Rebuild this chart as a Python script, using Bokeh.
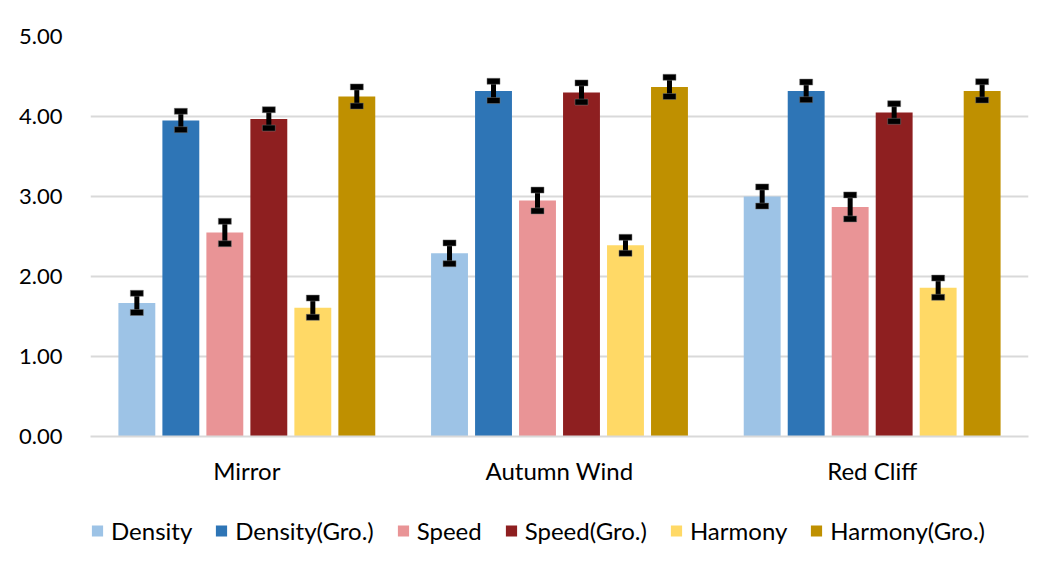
from bokeh.plotting import figure
from bokeh.layouts import column
from bokeh.models import (ColumnDataSource, FactorRange, Range1d, Legend, LegendItem,
                          FixedTicker, NumeralTickFormatter)
from bokeh.transform import dodge
from bokeh.embed import file_html
from bokeh.resources import INLINE

categories = ["Mirror", "Autumn Wind", "Red Cliff"]
series_names = ["Density", "Density(Gro.)", "Speed", "Speed(Gro.)", "Harmony", "Harmony(Gro.)"]
colors = ["#9DC3E6", "#2E75B6", "#E99496", "#8E1F20", "#FFD966", "#BF9000"]

density = [1.67, 2.29, 3.00]
density_gro = [3.95, 4.32, 4.32]
speed = [2.55, 2.95, 2.87]
speed_gro = [3.97, 4.30, 4.05]
harmony = [1.61, 2.39, 1.86]
harmony_gro = [4.25, 4.37, 4.32]

density_err = [0.12, 0.13, 0.12]
density_gro_err = [0.115, 0.12, 0.11]
speed_err = [0.14, 0.13, 0.15]
speed_gro_err = [0.115, 0.12, 0.11]
harmony_err = [0.12, 0.10, 0.12]
harmony_gro_err = [0.12, 0.12, 0.115]

y_ticks = [0, 1, 2, 3, 4, 5]

values = [density, density_gro, speed, speed_gro, harmony, harmony_gro]
errors = [density_err, density_gro_err, speed_err, speed_gro_err, harmony_err, harmony_gro_err]

FONT = "Lato"

p = figure(x_range=FactorRange(*categories, range_padding=0), y_range=Range1d(0, 5),
           frame_width=938, frame_height=400, output_backend="svg", toolbar_location=None,
           min_border_left=90, min_border_right=30, min_border_top=36, min_border_bottom=70)
p.outline_line_color = None
p.background_fill_color = "white"

# separate strip that carries the legend (shares the ranges, its bars are hidden)
lf = figure(width=1058, height=48, output_backend="svg", toolbar_location=None,
            x_axis_type=None, y_axis_type=None, x_range=p.x_range, y_range=p.y_range,
            min_border=0)
lf.outline_line_color = None
lf.xgrid.grid_line_color = None
lf.ygrid.grid_line_color = None

step = 0.1407
bw = 0.118
items = []
for i, (name, vals, errs, col) in enumerate(zip(series_names, values, errors, colors)):
    off = (i - 2.5) * step
    src = ColumnDataSource(dict(cat=categories, top=vals,
                                lo=[v - e for v, e in zip(vals, errs)],
                                hi=[v + e for v, e in zip(vals, errs)]))
    p.vbar(x=dodge("cat", off, range=p.x_range), top="top", bottom=0, width=bw,
           source=src, fill_color=col, line_color=None)
    p.segment(x0=dodge("cat", off, range=p.x_range), x1=dodge("cat", off, range=p.x_range),
              y0="lo", y1="hi", source=src, line_color="black", line_width=5)
    p.rect(x=dodge("cat", off, range=p.x_range), y="hi", width=13, height=6,
           width_units="screen", height_units="screen", source=src,
           fill_color="black", line_color="#777777", line_width=0.5)
    p.rect(x=dodge("cat", off, range=p.x_range), y="lo", width=13, height=6,
           width_units="screen", height_units="screen", source=src,
           fill_color="black", line_color="#777777", line_width=0.5)
    lr = lf.vbar(x=dodge("cat", off, range=p.x_range), top="top", bottom=0, width=bw,
                 source=src, fill_color=col, line_color=None, visible=False)
    items.append(LegendItem(label=name, renderers=[lr]))

p.xgrid.grid_line_color = None
p.ygrid.grid_line_color = "#D9D9D9"
p.ygrid.grid_line_width = 2
p.ygrid.ticker = FixedTicker(ticks=y_ticks)

p.yaxis.ticker = FixedTicker(ticks=y_ticks)
p.yaxis.formatter = NumeralTickFormatter(format="0.00")
p.yaxis.axis_line_color = None
p.yaxis.major_tick_line_color = None
p.yaxis.minor_tick_line_color = None
p.yaxis.major_label_standoff = 22
p.yaxis.major_label_text_font = FONT
p.yaxis.major_label_text_font_size = "22px"
p.yaxis.major_label_text_color = "#000000"

p.xaxis.axis_line_color = "#D9D9D9"
p.xaxis.axis_line_width = 2
p.xaxis.major_tick_line_color = None
p.xaxis.minor_tick_line_color = None
p.xaxis.major_label_standoff = 13
p.xaxis.major_label_text_font = FONT
p.xaxis.major_label_text_font_size = "24px"
p.xaxis.major_label_text_color = "#000000"

legend = Legend(items=items, orientation="horizontal", location="left",
                label_text_font=FONT, label_text_font_size="24px", label_text_color="#000000",
                glyph_width=14, glyph_height=14, label_standoff=7, spacing=22,
                padding=0, margin=0, border_line_color=None, background_fill_alpha=0)
lf.add_layout(legend, "center")

layout = column(p, lf, spacing=0)
open("out.html", "w").write(file_html(layout, INLINE))
